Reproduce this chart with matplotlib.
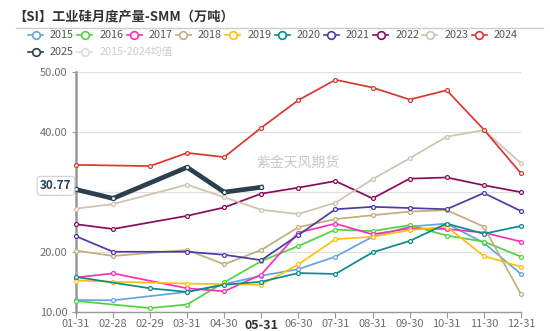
"""Monthly industrial silicon output (SMM), one line per year."""

import matplotlib

matplotlib.use("Agg")
import matplotlib.pyplot as plt
import numpy as np
from matplotlib.lines import Line2D

plt.rcParams["font.family"] = ["Noto Sans CJK SC", "DejaVu Sans"]

nan = np.nan

dates = ["01-31", "02-28", "02-29", "03-31", "04-30", "05-31", "06-30",
         "07-31", "08-31", "09-30", "10-31", "11-30", "12-31"]

y2015 = [11.95, 11.9, nan, 13.3, 14.6, 16.0, 17.1, 19.2, 22.5, 24.2, 24.7, 21.5, 16.3]
y2016 = [11.8, nan, 10.6, 11.2, 14.9, 18.45, 20.95, 23.7, 23.45, 24.45, 22.7, 21.7, 19.2]
y2017 = [15.7, 16.4, nan, 13.9, 13.4, 16.2, 23.2, 24.7, 22.9, 23.9, 23.8, 23.2, 21.7]
y2018 = [20.2, 19.3, nan, 20.3, 17.9, 20.3, 24.1, 25.45, 26.1, 26.7, 26.95, 24.2, 12.95]
y2019 = [15.2, 15.0, nan, 14.7, 14.6, 14.5, 17.9, 22.1, 22.5, 23.6, 24.2, 19.3, 17.5]
y2020 = [15.8, nan, 13.9, 13.3, 14.5, 15.0, 16.45, 16.3, 19.9, 21.8, 24.7, 23.0, 24.3]
y2021 = [22.6, 20.0, nan, 20.0, 19.5, 18.6, 22.8, 27.1, 27.5, 27.3, 27.1, 29.8, 26.8]
y2022 = [24.6, 23.8, nan, 26.0, 27.4, 29.7, 30.7, 31.8, 28.9, 32.2, 32.4, 31.1, 29.95]
y2023 = [27.2, 27.95, nan, 31.2, 29.1, 27.0, 26.3, 28.2, 32.1, 35.6, 39.2, 40.3, 34.8]
y2024 = [34.5, nan, 34.3, 36.5, 35.8, 40.7, 45.3, 48.7, 47.4, 45.4, 46.95, 40.4, 33.1]
y2025 = [30.4, 28.9, nan, 34.1, 29.95, 30.77, nan, nan, nan, nan, nan, nan, nan]

series = [
    ("2015", y2015, "#64a5e0"),
    ("2016", y2016, "#52d33e"),
    ("2017", y2017, "#fb2fb9"),
    ("2018", y2018, "#c0ae80"),
    ("2019", y2019, "#ffc10a"),
    ("2020", y2020, "#0b8b8b"),
    ("2021", y2021, "#4d3ba3"),
    ("2022", y2022, "#8a0b5e"),
    ("2023", y2023, "#d0c2b0"),
    ("2024", y2024, "#d8382f"),
]

fig = plt.figure(figsize=(5.5, 3.31), dpi=100)
ax = fig.add_axes([0.138, 0.0583, 0.809, 0.7242])

x = np.arange(len(dates))


def draw(ax, vals, color, lw, ms, z):
    # months missing from a year (02-28 vs 02-29) are skipped, line runs through
    v = np.array(vals, dtype=float)
    m = ~np.isnan(v)
    ax.plot(x[m], v[m], color=color, lw=lw, marker="o", ms=ms,
            mfc="white", mec=color, mew=0.9, zorder=z, clip_on=False)


for i, (name, vals, color) in enumerate(series):
    draw(ax, vals, color, 1.25, 2.8, 3 + i * 0.1)
draw(ax, y2025, "#2b3f4e", 3.4, 3.0, 5)

ax.set_xlim(0, 12)
ax.set_ylim(10, 50)
ax.set_yticks([10, 20, 30, 40, 50])
ax.set_yticklabels([f"{t:.2f}" for t in [10, 20, 30, 40, 50]])
ax.set_xticks(x)
ax.set_xticklabels(dates)
for lbl in ax.get_xticklabels():
    if lbl.get_text() == "05-31":
        lbl.set_fontweight("bold")
        lbl.set_fontsize(9)
        lbl.set_color("#333333")
    else:
        lbl.set_color("#6e6e6e")
        lbl.set_fontsize(8)
for lbl in ax.get_yticklabels():
    lbl.set_color("#6e6e6e")
    lbl.set_fontsize(8)

ax.grid(axis="y", color="#e0e0e0", lw=0.9)
ax.set_axisbelow(True)
for side in ["top", "right"]:
    ax.spines[side].set_visible(False)
ax.spines["left"].set_color("#999999")
ax.spines["left"].set_linewidth(1.8)
ax.spines["bottom"].set_color("#999999")
ax.spines["bottom"].set_linewidth(1.0)
ax.tick_params(axis="y", length=3, color="#999999", pad=3)
ax.tick_params(axis="x", length=4, color="#999999", pad=1)

# latest value tag on the y axis
ax.annotate(f"{y2025[5]:.2f}", xy=(0, y2025[5]), xycoords=("axes fraction", "data"),
            xytext=(-3, 1), textcoords="offset points", ha="right", va="center",
            fontsize=8.5, fontweight="bold", color="#2b3f4e", zorder=10,
            annotation_clip=False,
            bbox=dict(boxstyle="round,pad=0.25", fc="white", ec="#d0d0d0", lw=0.8))

# watermark
ax.text(0.5, 0.62, "紫金天风期货", transform=ax.transAxes, fontsize=10,
        color="#c8c8c8", ha="center", va="center", zorder=1)

# title and separator
fig.text(13 / 550, 1 - 16 / 331, "【SI】工业硅月度产量-SMM（万吨）", fontsize=9.5,
         fontweight="bold", color="#333333", ha="left", va="center")
fig.add_artist(Line2D([16 / 550, 543 / 550], [1 - 28.3 / 331] * 2,
                      transform=fig.transFigure, color="#cccccc", lw=1.0))

# legend, drawn by hand in two rows
legend_items = [(n, c, "#555555") for n, _, c in series]
legend_items += [("2025", "#2b3f4e", "#555555"), ("2015-2024均值", "#dddddd", "#cccccc")]
for k, (name, color, tcolor) in enumerate(legend_items):
    row, col = divmod(k, 10)
    x0 = 28 + col * 49.3
    y0 = 1 - (35 if row == 0 else 51.7) / 331
    fig.add_artist(Line2D([x0 / 550, (x0 + 15) / 550], [y0, y0], transform=fig.transFigure,
                          color=color, lw=1.2))
    fig.add_artist(Line2D([(x0 + 7.5) / 550], [y0], transform=fig.transFigure,
                          marker="o", ms=5.5, mfc="white", mec=color, mew=1.2))
    fig.text((x0 + 22) / 550, y0, name, fontsize=7.8, color=tcolor, ha="left", va="center")

fig.savefig("out.png", dpi=100)
plt.close(fig)
